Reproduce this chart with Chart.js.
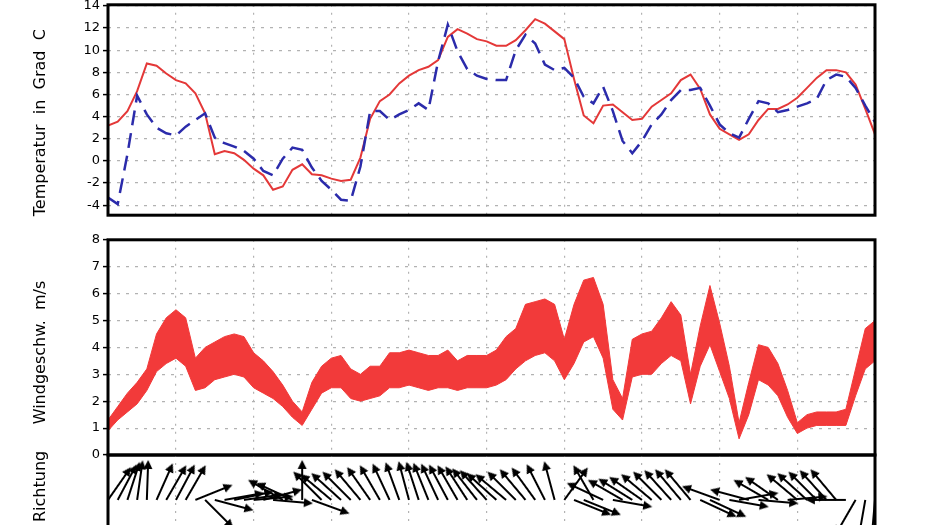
<!DOCTYPE html>
<html><head><meta charset="utf-8">
<script src="https://cdn.jsdelivr.net/npm/chart.js@4.4.0/dist/chart.umd.min.js"></script>
<style>
html,body{margin:0;padding:0;background:#fff;}
#wrap{position:relative;width:930px;height:525px;overflow:hidden;background:#fff;}
canvas{position:absolute;left:0;}
</style></head><body>
<div id="wrap">
<canvas id="cT" width="930" height="232" style="top:-6px"></canvas>
<canvas id="cW" width="930" height="238" style="top:229px"></canvas>
<canvas id="cD" width="930" height="84" style="top:449px"></canvas>
</div>
<script>
// time in hours (3-hourly), gridlines every 24 h
const hours = [-21,-18,-15,-12,-9,-6,-3,0,3,6,9,12,15,18,21,24,27,30,33,36,39,42,45,48,51,54,57,60,63,66,69,72,75,78,81,84,87,90,93,96,99,102,105,108,111,114,117,120,123,126,129,132,135,138,141,144,147,150,153,156,159,162,165,168,171,174,177,180,183,186,189,192,195,198,201,204,207,210,213,216];
const dayTicks = [0,24,48,72,96,120,144,168,192];

const tempRed = [3.2,3.55,4.5,6.3,8.8,8.6,7.9,7.3,7.0,6.1,
  4.3,0.6,0.9,0.7,0.1,-0.7,-1.3,-2.6,-2.3,-0.8,
  -0.3,-1.2,-1.3,-1.6,-1.8,-1.7,0.3,3.8,5.4,6.0,
  7.0,7.7,8.2,8.5,9.1,11.2,11.9,11.5,11.0,10.8,
  10.4,10.4,10.9,11.8,12.8,12.4,11.7,11.0,7.4,4.1,
  3.4,5.0,5.1,4.4,3.7,3.8,4.9,5.5,6.1,7.3,
  7.8,6.5,4.2,2.9,2.4,1.9,2.4,3.7,4.7,4.7,
  5.1,5.7,6.6,7.5,8.2,8.2,8.0,6.9,4.7,2.4];
const tempBlue = [-3.3,-3.9,0.6,5.9,4.2,3.0,2.5,2.3,3.1,3.7,
  4.3,2.1,1.6,1.3,0.9,0.2,-0.9,-1.3,0.2,1.2,
  1.0,-0.6,-1.8,-2.6,-3.5,-3.6,-0.5,4.5,4.5,3.7,
  4.2,4.6,5.2,4.6,9.0,12.3,9.9,8.3,7.7,7.4,
  7.3,7.3,10.0,11.4,10.6,8.7,8.2,8.4,7.5,5.8,
  5.2,6.7,4.5,1.8,0.7,1.8,3.3,4.2,5.5,6.4,
  6.4,6.6,5.0,3.3,2.5,2.1,3.8,5.4,5.2,4.4,
  4.6,4.9,5.2,5.6,7.3,7.8,7.6,6.6,5.0,3.5];

const windLow = [0.9,1.3,1.6,1.9,2.4,3.1,3.4,3.6,3.3,2.4,
  2.5,2.8,2.9,3.0,2.9,2.5,2.3,2.1,1.8,1.4,
  1.1,1.7,2.3,2.5,2.5,2.1,2.0,2.1,2.2,2.5,
  2.5,2.6,2.5,2.4,2.5,2.5,2.4,2.5,2.5,2.5,
  2.6,2.8,3.2,3.5,3.7,3.8,3.5,2.8,3.4,4.2,
  4.4,3.6,1.7,1.3,2.9,3.0,3.0,3.4,3.7,3.5,
  1.9,3.3,4.1,3.1,2.1,0.6,1.5,2.8,2.6,2.2,
  1.4,0.8,1.0,1.1,1.1,1.1,1.1,2.2,3.2,3.5];
const windHigh = [1.3,1.8,2.3,2.7,3.2,4.5,5.1,5.4,5.1,3.6,
  4.0,4.2,4.4,4.5,4.4,3.8,3.5,3.1,2.6,2.0,
  1.6,2.7,3.3,3.6,3.7,3.2,3.0,3.3,3.3,3.8,
  3.8,3.9,3.8,3.7,3.7,3.9,3.5,3.7,3.7,3.7,
  3.9,4.4,4.7,5.6,5.7,5.8,5.6,4.3,5.6,6.5,
  6.6,5.6,2.8,2.1,4.3,4.5,4.6,5.1,5.7,5.2,
  3.0,4.8,6.3,4.9,3.3,1.2,2.7,4.1,4.0,3.4,
  2.4,1.2,1.5,1.6,1.6,1.6,1.7,3.2,4.7,5.0];

// arrow direction, degrees clockwise from "up"
const windDir = [35,28,18,8,2,24,30,28,30,68,
  135,105,80,78,82,85,75,95,-60,-65,
  0,110,-45,-50,-48,-45,-40,-35,-30,-25,
  -20,-15,-18,-22,-25,-28,-30,-33,-38,-42,
  -48,-50,-45,-40,-36,-27,-15,36,112,112,
  -30,-65,100,-60,-58,-55,-50,-45,-42,-40,
  -40,115,115,-70,100,80,-75,95,-60,-55,
  85,-50,-48,-45,-42,-40,-90,210,190,185];

const tempTicks = [-4,-2,0,2,4,6,8,10,12,14];
const windTicks = [0,1,2,3,4,5,6,7,8];
const tempTitle = 'Temperatur  in  Grad  C     ';
const windTitle = 'Windgeschw.  m/s  ';
const dirTitle = '  Richtung';

const FONT = "'DejaVu Sans', sans-serif";
const GRID = 'rgb(178,178,178)';
Chart.defaults.plugins.legend.display = false;
Chart.defaults.plugins.tooltip.enabled = false;
Chart.defaults.animation = false;

const frame = { id:'frame', afterDraw(chart){
  const {ctx, chartArea:a} = chart;
  ctx.save(); ctx.strokeStyle = '#000'; ctx.lineWidth = 3;
  ctx.strokeRect(a.left, a.top, a.right - a.left, a.bottom - a.top);
  ctx.restore();
}};

function xAxis(h){ return {
  type:'linear', min:-21, max:216,
  afterBuildTicks: s => { s.ticks = dayTicks.map(v => ({value:v})); },
  afterFit: s => { s.height = h; },
  ticks:{display:false},
  grid:{color:GRID, lineWidth:1.2, drawTicks:false},
  border:{display:false, dash:[2,6]}
};}
function yAxis(min, max, ticks, title){ return {
  min, max,
  afterBuildTicks: s => { s.ticks = ticks.map(v => ({value:v})); },
  afterFit: s => { s.width = 108; },
  ticks:{display: ticks.length > 0, color:'#000', font:{family:FONT, size:13}, padding:3, autoSkip:false},
  grid:{display: ticks.length > 0, color:GRID, lineWidth:1.2, drawTicks:true, tickLength:5, tickColor:'#000', tickWidth:1.5, tickBorderDash:[]},
  border:{display:false, dash:[3,6]},
  title:{display:true, text:title, color:'#000', font:{family:FONT, size:16}, padding:{top:31, bottom:0}}
};}
const base = { responsive:false, devicePixelRatio:1, animation:false, events:[] };

new Chart(document.getElementById('cT'), {
  type:'line',
  data:{ datasets:[
    { data: hours.map((h,i) => ({x:h, y:tempBlue[i]})), borderColor:'#2b2bab', borderWidth:2.5, borderDash:[15,8], pointRadius:0, tension:0 },
    { data: hours.map((h,i) => ({x:h, y:tempRed[i]})), borderColor:'#e43838', borderWidth:2, pointRadius:0, tension:0 }
  ]},
  options:{ ...base, layout:{padding:{left:0, right:55, top:6, bottom:0}},
    scales:{ x:xAxis(8), y:yAxis(-4.9, 14.1, tempTicks, tempTitle) } },
  plugins:[frame]
});

new Chart(document.getElementById('cW'), {
  type:'line',
  data:{ datasets:[
    { data: hours.map((h,i) => ({x:h, y:windLow[i]})), borderColor:'#f23a3a', borderWidth:1, pointRadius:0, fill:false },
    { data: hours.map((h,i) => ({x:h, y:windHigh[i]})), borderColor:'#f23a3a', borderWidth:1, backgroundColor:'#f23a3a', pointRadius:0, fill:'-1' }
  ]},
  options:{ ...base, layout:{padding:{left:0, right:55, top:6, bottom:0}},
    scales:{ x:xAxis(12), y:yAxis(0, 8, windTicks, windTitle) } },
  plugins:[frame]
});

// arrow glyph used as point style (rotated per point)
const L = 40, S = 2*L + 10;
const arrow = document.createElement('canvas');
arrow.width = S; arrow.height = S;
{
  const c = arrow.getContext('2d'), cx = S/2, cy = S/2;
  c.strokeStyle = '#000'; c.fillStyle = '#000'; c.lineWidth = 2;
  c.beginPath(); c.moveTo(cx, cy); c.lineTo(cx, cy - L + 6); c.stroke();
  c.beginPath(); c.moveTo(cx, cy - L); c.lineTo(cx - 4.5, cy - L + 9); c.lineTo(cx + 4.5, cy - L + 9); c.closePath(); c.fill();
}

new Chart(document.getElementById('cD'), {
  type:'scatter',
  data:{ datasets:[
    { data: hours.map(h => ({x:h, y:0})), pointStyle: arrow, pointRadius:3,
      pointRotation: ctx => windDir[ctx.dataIndex], clip:false }
  ]},
  options:{ ...base, layout:{padding:{left:0, right:55, top:6, bottom:0}},
    scales:{ x:xAxis(0), y:yAxis(-0.625, 1, [], dirTitle) } },
  plugins:[frame]
});
</script>
</body></html>
